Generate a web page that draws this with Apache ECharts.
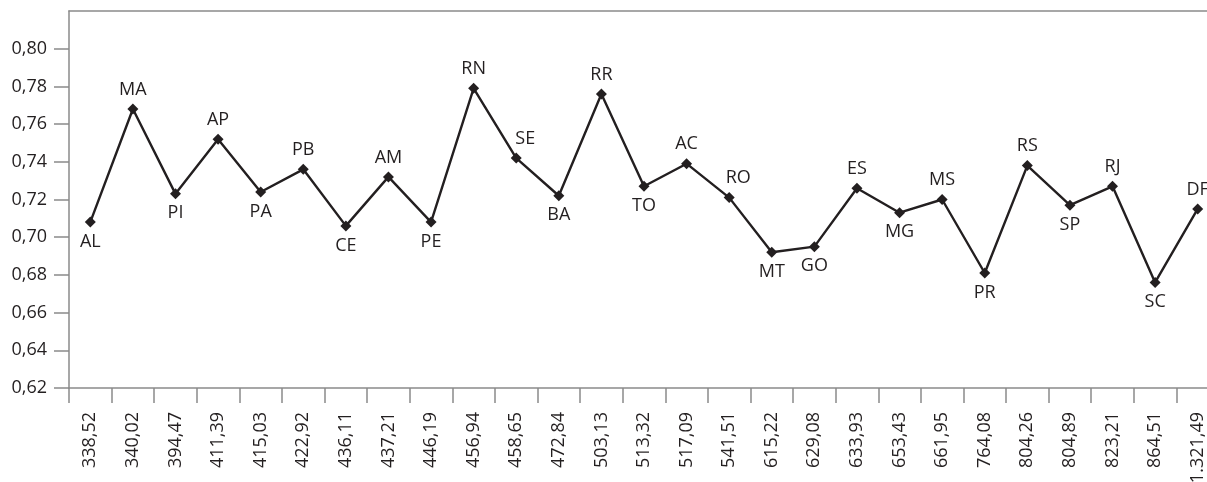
<!DOCTYPE html>
<html>
<head>
<meta charset="utf-8">
<script src="https://cdn.jsdelivr.net/npm/echarts@6/dist/echarts.min.js"></script>
<style>
  html, body { margin: 0; padding: 0; background: #fff; overflow: hidden; }
  #chart { width: 1220px; height: 482px; }
</style>
</head>
<body>
<div id="chart"></div>
<script>
// Category labels along the x axis
const categories = ['338,52', '340,02', '394,47', '411,39', '415,03', '422,92', '436,11', '437,21', '446,19',
  '456,94', '458,65', '472,84', '503,13', '513,32', '517,09', '541,51', '615,22', '629,08',
  '633,93', '653,43', '661,95', '764,08', '804,26', '804,89', '823,21', '864,51', '1.321,49'];

// State abbreviation for each point
const states = ['AL', 'MA', 'PI', 'AP', 'PA', 'PB', 'CE', 'AM', 'PE',
  'RN', 'SE', 'BA', 'RR', 'TO', 'AC', 'RO', 'MT', 'GO',
  'ES', 'MG', 'MS', 'PR', 'RS', 'SP', 'RJ', 'SC', 'DF'];

// Index values
const values = [0.708, 0.768, 0.723, 0.752, 0.724, 0.736, 0.706, 0.732, 0.708,
  0.779, 0.742, 0.722, 0.776, 0.727, 0.739, 0.721, 0.692, 0.695,
  0.726, 0.713, 0.720, 0.681, 0.738, 0.717, 0.727, 0.676, 0.715];

// Y axis tick values
const yTicks = [0.62, 0.64, 0.66, 0.68, 0.70, 0.72, 0.74, 0.76, 0.78, 0.80];

// Which side of the point each state label sits on
const labelSide = ['bottom', 'top', 'bottom', 'top', 'bottom', 'top', 'bottom', 'top', 'bottom',
  'top', 'top', 'bottom', 'top', 'bottom', 'top', 'top', 'bottom', 'bottom',
  'top', 'bottom', 'top', 'bottom', 'top', 'bottom', 'top', 'bottom', 'top'];

const labelShift = { SE: [9, 0], RO: [9, 0] };

const FONT = '"Open Sans", "Noto Sans", sans-serif';
const TEXT = '#231f20';
const AXIS = '#8a8a8a';

const fmt = v => v.toFixed(2).replace('.', ',');

const seriesData = values.map((v, i) => ({
  value: v,
  name: states[i],
  label: { position: labelSide[i], offset: labelShift[states[i]] || [0, 0] }
}));

const chart = echarts.init(document.getElementById('chart'), null, { renderer: 'canvas' });
chart.setOption({
  animation: false,
  backgroundColor: '#fff',
  grid: { left: 69, right: 1, top: 11, bottom: 94, containLabel: false, outerBoundsMode: 'none' },
  xAxis: [{
    type: 'category',
    data: categories,
    boundaryGap: true,
    axisLine: { lineStyle: { color: AXIS, width: 1.5 } },
    axisTick: { show: true, length: 15, alignWithLabel: false, lineStyle: { color: AXIS, width: 1.5 } },
    axisLabel: { rotate: 90, margin: 24, interval: 0, color: TEXT, fontFamily: FONT, fontSize: 18 }
  }, {
    type: 'category',
    data: categories,
    position: 'top',
    axisLine: { lineStyle: { color: AXIS, width: 1.5 } },
    axisTick: { show: false },
    axisLabel: { show: false }
  }],
  yAxis: {
    type: 'value',
    min: 0.62,
    max: 0.82,
    interval: 0.02,
    axisLine: { show: true, lineStyle: { color: AXIS, width: 1.5 } },
    axisTick: { show: true, length: 15, customValues: yTicks, lineStyle: { color: AXIS, width: 1.5 } },
    axisLabel: { customValues: yTicks, margin: 22, color: TEXT, fontFamily: FONT, fontSize: 18, formatter: fmt },
    splitLine: { show: false }
  },
  series: [{
    type: 'line',
    data: seriesData,
    symbol: 'diamond',
    symbolSize: 11,
    itemStyle: { color: TEXT },
    lineStyle: { color: TEXT, width: 2.4 },
    label: {
      show: true,
      formatter: p => p.name,
      color: TEXT,
      fontFamily: FONT,
      fontSize: 18,
      distance: 5
    }
  }]
});
</script>
</body>
</html>
